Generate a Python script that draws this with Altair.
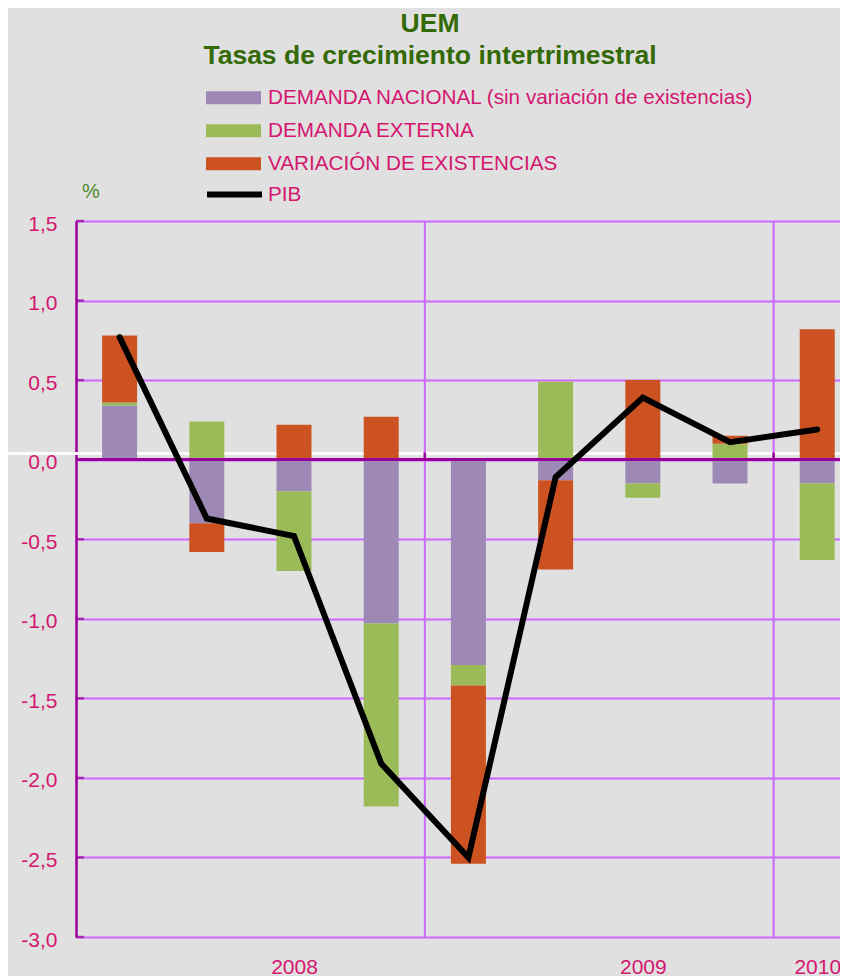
import altair as alt
import pandas as pd

# ---- data ----
trimestres = ["I 2008", "II 2008", "III 2008", "IV 2008",
              "I 2009", "II 2009", "III 2009", "IV 2009", "I 2010"]
demanda_nacional = [0.34, -0.40, -0.20, -1.03, -1.29, -0.13, -0.15, -0.15, -0.15]
demanda_externa = [0.02, 0.24, -0.50, -1.15, -0.13, 0.49, -0.09, 0.10, -0.48]
variacion_existencias = [0.42, -0.18, 0.22, 0.27, -1.12, -0.56, 0.50, 0.05, 0.82]
pib = [0.77, -0.37, -0.48, -1.91, -2.50, -0.11, 0.39, 0.11, 0.19]

series = ["DEMANDA NACIONAL (sin variación de existencias)",
          "DEMANDA EXTERNA",
          "VARIACIÓN DE EXISTENCIAS"]
colores = ["#9e88b6", "#9bbb59", "#cc5222"]

anios = ["2008", "2009", "2010"]
trimestre_etiqueta_anio = [2, 6, 8]   # quarter under which each year label sits
inicio_anio = [4, 8]                  # quarter index where a new year begins
y_ticks = [-3.0, -2.5, -2.0, -1.5, -1.0, -0.5, 0.0, 0.5, 1.0, 1.5]

# ---- styling ----
FONT = "Liberation Sans"
PINK = "#d4166f"
GREEN_T = "#346a06"
GREEN_P = "#4e8a2a"
GRID = "#cc66ff"
DARK = "#990099"
BG = "#e0e0e0"

W, H = 764, 716
XMAX = 8.761

# ---- tables ----
rows = []
for i, t in enumerate(trimestres):
    for k, (s, vals) in enumerate(zip(series, [demanda_nacional, demanda_externa, variacion_existencias])):
        rows.append({"trimestre": t, "pos": i + 0.5, "serie": s, "orden": k, "valor": vals[i]})
df_bars = pd.DataFrame(rows)
df_pib = pd.DataFrame({"trimestre": trimestres,
                       "pos": [i + 0.5 for i in range(len(trimestres))],
                       "valor": pib, "serie": ["PIB"] * len(pib)})
df_years = pd.DataFrame({"pos": inicio_anio})
df_ticks = pd.DataFrame({"valor": y_ticks})

label_pos = [p + 0.5 for p in trimestre_etiqueta_anio]
label_expr = " : ".join(f"datum.value == {p} ? '{a}'" for p, a in zip(label_pos, anios)) + " : ''"

xs = alt.Scale(domain=[0, XMAX], nice=False, zero=False, padding=0)
ys = alt.Scale(domain=[-3, 1.5], nice=False, zero=False, padding=0)

y_label_expr = "replace(replace(format(datum.value, '.1f'), '.', ','), '\u2212', '-')"

x_axis = alt.Axis(values=label_pos, labelExpr=label_expr, grid=False, ticks=False,
                  domain=False, labelPadding=19, labelFontSize=21, labelColor=PINK,
                  labelFont=FONT, labelAngle=0)
y_axis = alt.Axis(values=y_ticks, labelExpr=y_label_expr, grid=True, gridColor=GRID,
                  gridWidth=2, domainColor=DARK, domainWidth=2.5, ticks=False,
                  labelPadding=19, labelOffset=3, labelFontSize=21, labelColor=PINK,
                  labelFont=FONT, title="%", titleAngle=0, titleX=14.5, titleY=-24,
                  titleAlign="center", titleBaseline="alphabetic", titleFontSize=20,
                  titleColor=GREEN_P, titleFontWeight="normal", titleFont=FONT)

bars = alt.Chart(df_bars).mark_bar(size=35).encode(
    x=alt.X("pos:Q", scale=xs, axis=x_axis, title=None),
    y=alt.Y("valor:Q", stack="zero", scale=ys, axis=y_axis),
    color=alt.Color("serie:N", scale=alt.Scale(domain=series, range=colores),
                    legend=alt.Legend(title=None, orient="none", legendX=130, legendY=-139.5,
                                      symbolType="M-1,-0.236H1V0.236H-1Z", symbolSize=3025,
                                      symbolStrokeWidth=0, symbolOpacity=1,
                                      labelFontSize=20.7, labelColor=PINK, labelFont=FONT,
                                      labelLimit=700, labelOffset=7, rowPadding=0,
                                      clipHeight=32.5)),
    order=alt.Order("orden:Q"),
)

white_line = alt.Chart(df_ticks).mark_rule(color="white", strokeWidth=1.5).encode(
    y=alt.datum(0.039), x=alt.value(-68), x2=alt.value(W)
)

year_rules = alt.Chart(df_years).mark_rule(color=GRID, strokeWidth=2).encode(
    x=alt.X("pos:Q", scale=xs, title=None), y=alt.datum(-3), y2=alt.datum(1.5)
)

zero_line = alt.Chart(df_ticks).mark_rule(color=DARK, strokeWidth=2.5).encode(
    y=alt.datum(0)
)

year_ticks = alt.Chart(df_years).mark_rule(color=DARK, strokeWidth=2.5).encode(
    x=alt.X("pos:Q", scale=xs, title=None), y=alt.datum(0), y2=alt.datum(0.045)
)

y_inner_ticks = alt.Chart(df_ticks).mark_tick(orient="horizontal", color=DARK,
                                              thickness=2.5, size=8).encode(
    y=alt.Y("valor:Q", scale=ys), x=alt.value(4)
)

line = alt.Chart(df_pib).mark_line(strokeWidth=6, strokeCap="round", strokeJoin="miter").encode(
    x=alt.X("pos:Q", scale=xs, title=None),
    y=alt.Y("valor:Q", scale=ys),
    stroke=alt.Stroke("serie:N", scale=alt.Scale(domain=["PIB"], range=["black"]),
                      legend=alt.Legend(title=None, orient="none", legendX=128, legendY=-57,
                                        symbolType="stroke", symbolSize=3025,
                                        symbolStrokeWidth=6, labelFontSize=20.7,
                                        labelColor=PINK, labelFont=FONT, labelOffset=3)),
)

chart = alt.layer(white_line, year_rules, bars, zero_line, year_ticks, y_inner_ticks, line).properties(
    width=W, height=H,
    autosize=alt.AutoSizeParams(type="none"),
    padding={"left": 68, "top": 213, "right": 0, "bottom": 39},
    background=BG,
    title=alt.TitleParams(["UEM", "Tasas de crecimiento intertrimestral"], anchor="middle",
                          frame="group", dx=-28, offset=12, fontSize=26.5, font=FONT,
                          fontWeight="bold", color=GREEN_T, lineHeight=32),
).configure_view(stroke=None)

chart.save("out.html", embed_options={"renderer": "svg", "actions": False})
